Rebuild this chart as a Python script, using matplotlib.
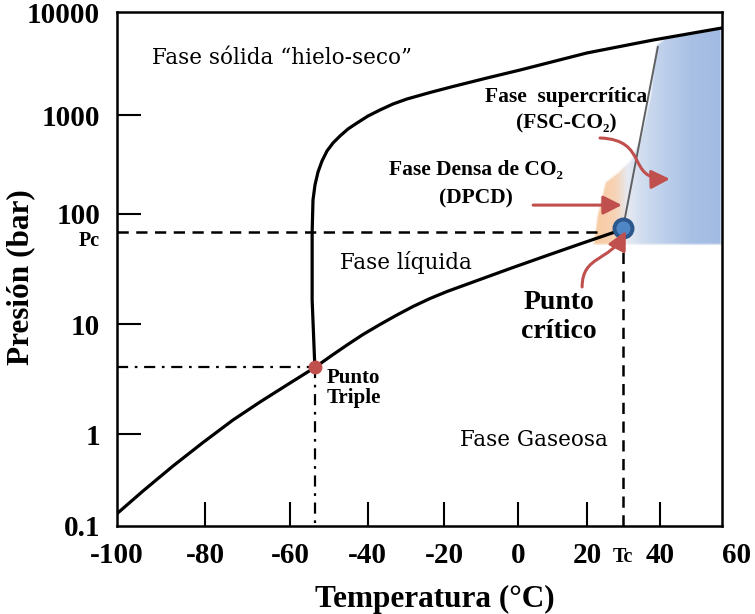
import numpy as np
import matplotlib
matplotlib.use('Agg')
import matplotlib.pyplot as plt
from matplotlib.patches import Polygon, FancyArrowPatch
from matplotlib.path import Path
import matplotlib.transforms as mtransforms
from matplotlib.colors import to_rgba

plt.rcParams['font.family'] = ['Liberation Serif', 'DejaVu Serif']
plt.rcParams['font.weight'] = 'bold'
REGULAR = ['DejaVu Serif', 'Liberation Serif']

# ---------------- data ----------------
sublimation_T = [-100, -94.06, -87.29, -80.52, -73.46, -67.08, -60.47, -53.6]
sublimation_P = [0.134, 0.239, 0.449, 0.813, 1.349, 1.966, 2.848, 4.05]

vaporization_T = [-53.6, -49.45, -45.33, -41.21, -36.78, -32.58, -28.13, -23.67,
                  -19.19, -10.31, -1.43, 8.32, 17.88, 27.62]
vaporization_P = [4.05, 5.15, 6.48, 8.08, 9.96, 12.02, 14.5, 17.13,
                  19.83, 25.48, 32.73, 42.05, 53.46, 68.7]

melting_T = [-53.6, -54.3, -54.3, -54.08, -53.57, -52.79, -51.76, -50.48, -48.93,
             -47.13, -45.07, -42.75, -39.92, -36.78, -33.37, -29.70, -23.67, -17.58,
             -8.43, 0.5, 19.9, 38.1, 60]
melting_P = [4.05, 16.6, 68.7, 138.5, 196.3, 265.6, 343.0, 432.9, 521.5,
             613.8, 722.2, 830.4, 977, 1119, 1280, 1432, 1656, 1895,
             2293, 2741, 4019, 5370, 7030]

triple_T, triple_P = -53.6, 4.05
critical_T, critical_P = 29.8, 74.1
Tc_value, Pc_value = 29.7, 68.2

# boundary line of supercritical region (grey)
sc_line_T = [29.8, 39.4]
sc_line_P = [74.1, 4590]

# dense / supercritical shaded region outline
region_T = [60, 21.6, 22.7, 24.9, 28.5, 31.8, 34.6, 37.3, 38.9, 41.6, 60]
region_P = [52.4, 52.4, 97.9, 210, 266, 351, 586, 1567, 4808, 5623, 7030]

# annotation arrows (data coordinates, cubic path points)
arrow_dpcd_T = [4.3, 29.5]
arrow_dpcd_P = [123, 123]
arrow_sc_T = [23.5, 37.3, 30.4, 43.2]
arrow_sc_P = [586, 559, 220, 226]
arrow_cp_T = [18.5, 18.5, 26.2, 30.6]
arrow_cp_P = [21.8, 42.5, 36.7, 70.2]

x_ticks = [-100, -80, -60, -40, -20, 0, 20, Tc_value, 40, 60]
x_tick_labels = ['-100', '-80', '-60', '-40', '-20', '0', '20', 'Tc', '40', '60']
y_ticks = [0.1, 1, 10, Pc_value, 100, 1000, 10000]
y_tick_labels = ['0.1', '1', '10', 'Pc', '100', '1000', '10000']

# ---------------- non-uniform drawing scales (figure is not to scale) ----------------
X_KNOTS = np.array([-100, -80, -60, -40, -20, 0, 20, 40, 60], float)
X_POS = np.array([116.7, 205.3, 290, 367.7, 444, 518.3, 587.3, 660, 721.7])
Y_KNOTS = np.array([-1, 0, 1, 2, 3, 4], float)
Y_POS = -np.array([525.5, 434.3, 324.3, 214, 115, 12.3])


def pw(xk, yk):
    def f(v):
        v = np.asarray(v, float)
        out = np.interp(v, xk, yk)
        lo = v < xk[0]
        hi = v > xk[-1]
        out = np.where(lo, yk[0] + (v - xk[0]) * (yk[1] - yk[0]) / (xk[1] - xk[0]), out)
        out = np.where(hi, yk[-1] + (v - xk[-1]) * (yk[-1] - yk[-2]) / (xk[-1] - xk[-2]), out)
        return out
    return f


fx = pw(X_KNOTS, X_POS)
fxi = pw(X_POS, X_KNOTS)
_fy = pw(Y_KNOTS, Y_POS)
_fyi = pw(Y_POS, Y_KNOTS)


def fy(p):
    p = np.clip(np.asarray(p, float), 1e-300, None)
    return _fy(np.log10(p))


def fyi(v):
    return 10.0 ** _fyi(v)


fig = plt.figure(figsize=(7.55, 6.14), dpi=100)
ax = fig.add_axes([116.7 / 755, 1 - 525.5 / 614, 605 / 755, 513.2 / 614])
ax.set_xscale('function', functions=(fx, fxi))
ax.set_yscale('function', functions=(fy, fyi))
ax.set_xlim(-100, 60)
ax.set_ylim(0.1, 10000)

# ---------------- shaded region with gradient ----------------
stops = [(0.0, '#f8cda6'), (0.80, '#f8cda6'), (0.825, '#f7d3b6'), (0.845, '#e6e9f1'),
         (0.865, '#d3dff0'), (0.90, '#c0d1ec'), (0.95, '#a9c0e5'), (1.0, '#a2bbe2')]
N = 400
xs = np.linspace(0, 1, N)
pos = [s[0] for s in stops]
cols = np.array([to_rgba(s[1]) for s in stops])
grad = np.zeros((2, N, 4))
for c in range(4):
    grad[:, :, c] = np.interp(xs, pos, cols[:, c])
img = ax.imshow(grad, extent=[0, 1, 0, 1], transform=ax.transAxes, aspect='auto',
                interpolation='bilinear', zorder=0.5)
region_patch = Polygon(np.column_stack([region_T, region_P]), closed=True,
                       transform=ax.transData)
img.set_clip_path(region_patch)
ax.add_patch(Polygon(np.column_stack([region_T, region_P]), closed=True,
                     facecolor='none', edgecolor='white', lw=2.0, alpha=0.55, zorder=0.6))

# ---------------- guide lines ----------------
ax.plot([-100, 24], [Pc_value, Pc_value], color='black', lw=1.8, ls=(0, (4.5, 3)), zorder=2)
ax.plot([Tc_value, Tc_value], [0.1, 60], color='black', lw=1.8, ls=(0, (4.5, 3)), zorder=2)
ax.plot([-100, triple_T], [triple_P, triple_P], color='black', lw=1.6,
        ls=(0, (5, 3, 1.2, 3)), zorder=2)
ax.plot([triple_T, triple_T], [triple_P, 0.1], color='black', lw=1.6,
        ls=(0, (5, 3, 1.2, 3)), zorder=2)

# ---------------- phase curves ----------------
kw = dict(color='black', lw=2.3, zorder=3, solid_capstyle='round', solid_joinstyle='round')
ax.plot(sublimation_T, sublimation_P, **kw)
ax.plot(vaporization_T, vaporization_P, **kw)
ax.plot(melting_T, melting_P, **kw)
ax.plot(sc_line_T, sc_line_P, color='#5f6062', lw=1.4, zorder=3)

# points
ax.plot([triple_T], [triple_P], 'o', ms=9, color='#c0504d', mec='#c0504d', zorder=4)
ax.plot([critical_T], [critical_P], 'o', ms=13, mfc='#4f86c6', mec='#2c578c', mew=2.8, zorder=4)

# ---------------- arrows ----------------
red = '#c0504d'
style = '-|>,head_length=0.75,head_width=0.38'
a1 = FancyArrowPatch((arrow_dpcd_T[0], arrow_dpcd_P[0]), (arrow_dpcd_T[1], arrow_dpcd_P[1]),
                     arrowstyle=style, mutation_scale=15, color=red, lw=2.2,
                     shrinkA=0, shrinkB=0, zorder=5, transform=ax.transData)
ax.add_patch(a1)
codes = [Path.MOVETO, Path.CURVE4, Path.CURVE4, Path.CURVE4]
a2 = FancyArrowPatch(path=Path(np.column_stack([arrow_sc_T, arrow_sc_P]), codes),
                     arrowstyle=style, mutation_scale=15, color=red, lw=2.2,
                     zorder=5, transform=ax.transData)
ax.add_patch(a2)
a3 = FancyArrowPatch(path=Path(np.column_stack([arrow_cp_T, arrow_cp_P]), codes),
                     arrowstyle=style, mutation_scale=15, color=red, lw=2.2,
                     zorder=5, transform=ax.transData)
ax.add_patch(a3)

# ---------------- texts ----------------
T = ax.transAxes
ax.text(0.058, 0.911, 'Fase sólida “hielo-seco”', fontsize=15.5, fontweight='normal',
        family=REGULAR, ha='left', va='center', transform=T)
ax.text(0.369, 0.513, 'Fase líquida', fontsize=15.5, fontweight='normal',
        family=REGULAR, ha='left', va='center', transform=T)
ax.text(0.567, 0.167, 'Fase Gaseosa', fontsize=15.5, fontweight='normal',
        family=REGULAR, ha='left', va='center', transform=T)
ax.text(0.743, 0.835, 'Fase  supercrítica', fontsize=15.5, ha='center', va='center', transform=T)
ax.text(0.743, 0.784, '(FSC-CO₂)', fontsize=15.5, ha='center', va='center', transform=T)
ax.text(0.593, 0.692, 'Fase Densa de CO₂', fontsize=15.5, ha='center', va='center', transform=T)
ax.text(0.593, 0.638, '(DPCD)', fontsize=15.5, ha='center', va='center', transform=T)
ax.text(0.731, 0.406, 'Punto\ncrítico', fontsize=20, ha='center', va='center',
        linespacing=1.2, transform=T)
ax.text(0.347, 0.268, 'Punto\nTriple', fontsize=15, ha='left', va='center',
        linespacing=1.05, transform=T)

# ---------------- axes styling ----------------
for s in ax.spines.values():
    s.set_linewidth(1.8)
ax.minorticks_off()
ax.set_xticks(x_ticks)
ax.set_xticklabels(x_tick_labels)
ax.set_yticks(y_ticks)
ax.set_yticklabels(y_tick_labels)
ax.tick_params(axis='both', direction='in', length=17, width=1.5, labelsize=21)
ax.tick_params(axis='x', pad=12)
ax.tick_params(axis='y', pad=12)

xt = ax.xaxis.get_major_ticks()
for i in (0, 7, 9):
    xt[i].tick1line.set_visible(False)
xt[7].label1.set_fontsize(14.5)
xt[7].label1.set_transform(xt[7].label1.get_transform() +
                           mtransforms.ScaledTranslation(0, -0.05, fig.dpi_scale_trans))
xt[9].label1.set_transform(xt[9].label1.get_transform() +
                           mtransforms.ScaledTranslation(0.15, 0, fig.dpi_scale_trans))
yt = ax.yaxis.get_major_ticks()
for i in (0, 3, 6):
    yt[i].tick1line.set_visible(False)
yt[3].label1.set_fontsize(14.5)
yt[3].label1.set_transform(yt[3].label1.get_transform() +
                           mtransforms.ScaledTranslation(0, -0.06, fig.dpi_scale_trans))

ax.set_xlabel('Temperatura (°C)', fontsize=22.5, fontweight='bold')
ax.xaxis.set_label_coords(0.526, -0.115)
ax.set_ylabel('Presión (bar)', fontsize=22.5, fontweight='bold')
ax.yaxis.set_label_coords(-0.135, 0.484)

fig.savefig('out.png', dpi=100)
